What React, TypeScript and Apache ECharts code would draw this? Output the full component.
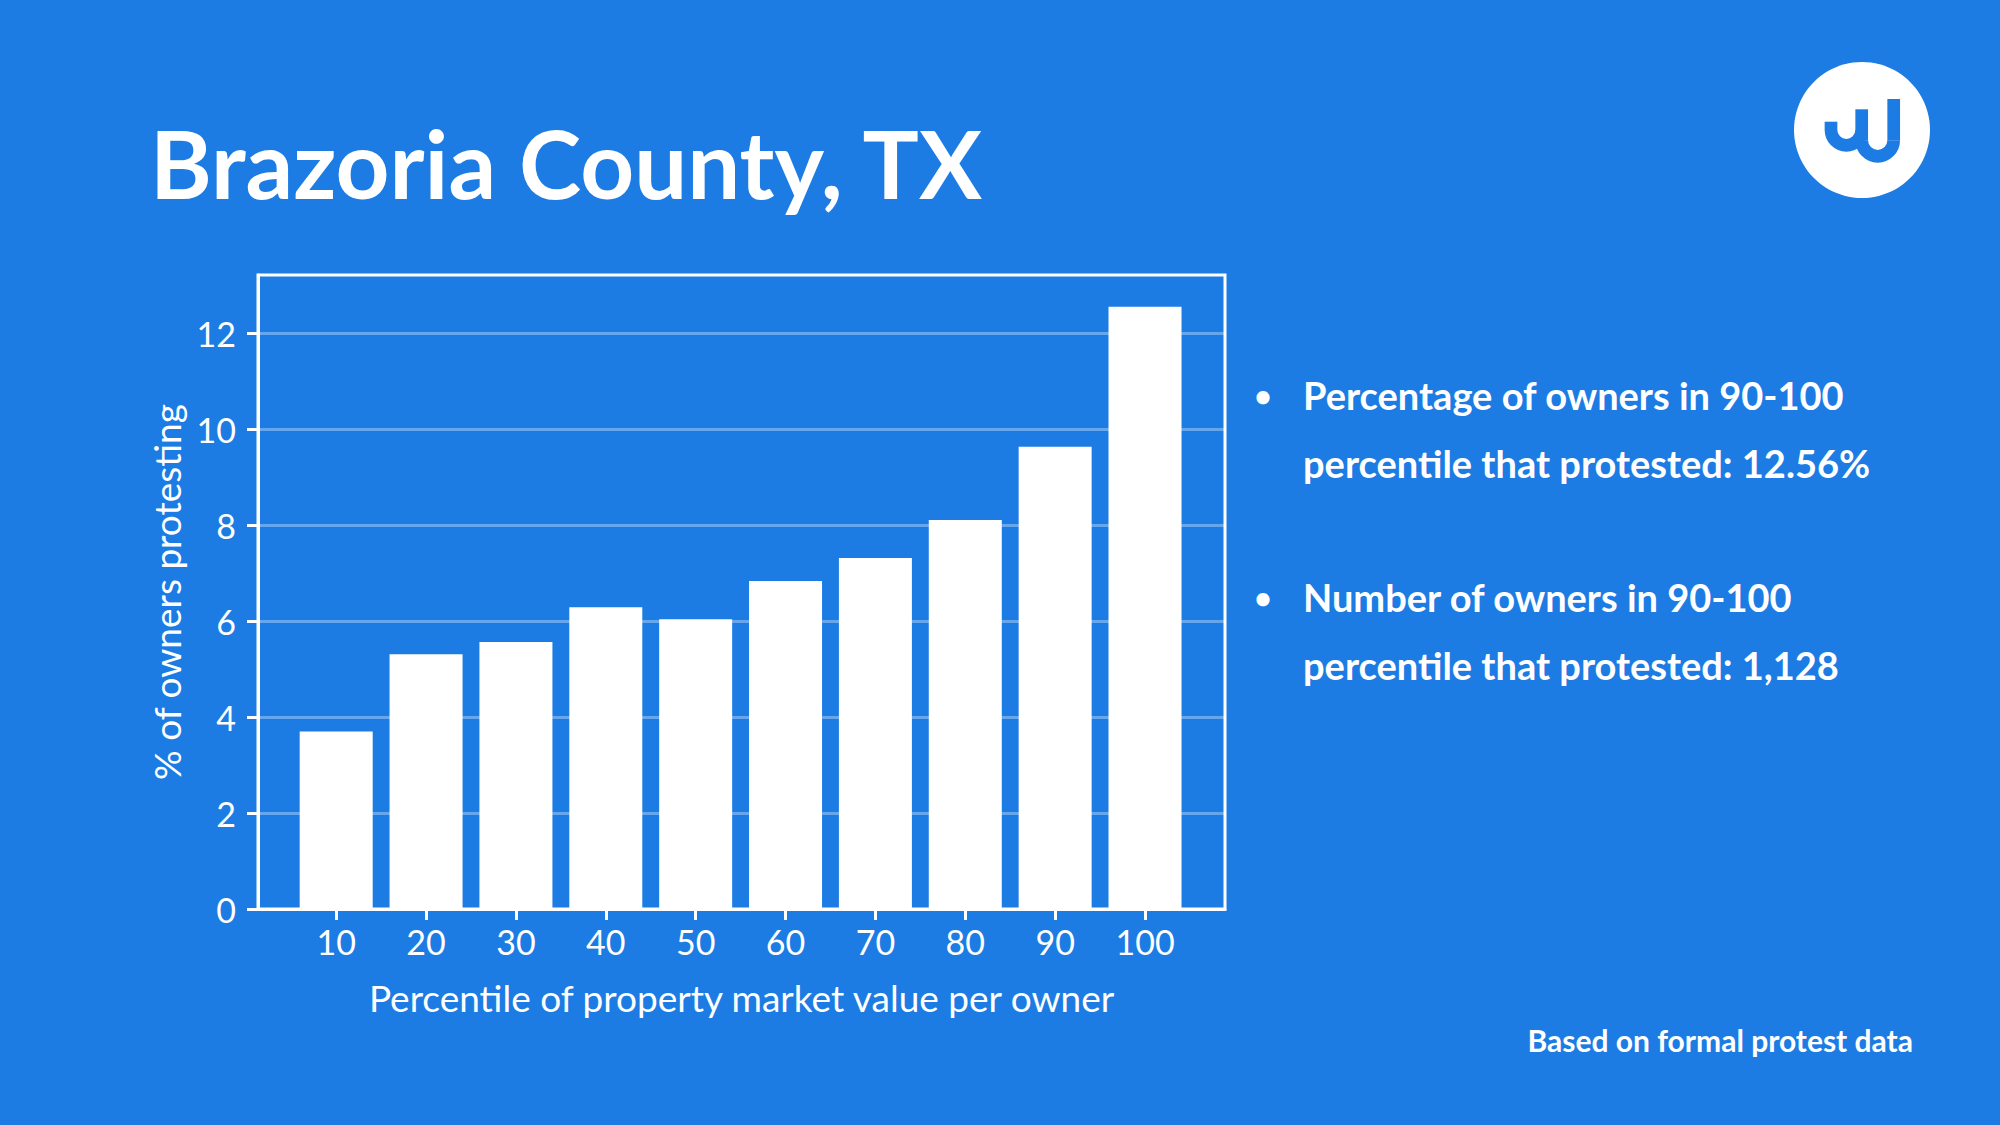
import React, { useEffect, useRef } from "react";
import * as echarts from "echarts";

const percentiles = [10, 20, 30, 40, 50, 60, 70, 80, 90, 100];
const protestPct = [3.7, 5.31, 5.57, 6.29, 6.04, 6.84, 7.32, 8.11, 9.64, 12.56];
const yTicks = [0, 2, 4, 6, 8, 10, 12];

const titleText = "Brazoria County, TX";
const xName = "Percentile of property market value per owner";
const yName = "% of owners protesting";
const bulletLines = [
  ["Percentage of owners in 90-100", "percentile that protested: 12.56%"],
  ["Number of owners in 90-100", "percentile that protested: 1,128"],
];
const footnote = "Based on formal protest data";

const BG = "#1c7ce4";
const FONT = "Lato";

export default function App() {
  const ref = useRef<HTMLDivElement>(null);
  useEffect(() => {
    document.body.style.margin = "0";
    const chart = echarts.init(ref.current!, null, { renderer: "svg" });

    const bulletGraphics: any[] = [];
    const lineYs = [[395, 463], [597, 665]];
    bulletLines.forEach((lines, i) => {
      bulletGraphics.push({
        type: "text",
        x: 1263,
        y: lineYs[i][0],
        style: { text: "•", fill: "#fff", font: `bold 30px ${FONT}`, verticalAlign: "middle", align: "center" },
      });
      lines.forEach((t, j) => {
        bulletGraphics.push({
          type: "text",
          x: 1303,
          y: lineYs[i][j],
          style: { text: t, fill: "#fff", font: `bold 38px ${FONT}`, verticalAlign: "middle", align: "left" },
        });
      });
    });

    const logoStroke = { stroke: BG, lineWidth: 12.7, fill: "none" };

    chart.setOption({
      animation: false,
      backgroundColor: BG,
      textStyle: { fontFamily: FONT },
      grid: {
        left: 258,
        right: 775,
        top: 275,
        bottom: 216,
        show: true,
        borderColor: "#fff",
        borderWidth: 3,
        backgroundColor: "transparent",
      },
      xAxis: {
        type: "value",
        min: 1.3,
        max: 108.9,
        name: xName,
        nameLocation: "middle",
        nameGap: 70,
        nameTextStyle: { color: "#fff", fontSize: 37, fontFamily: FONT },
        axisLine: { show: true, lineStyle: { color: "#fff", width: 3 } },
        axisTick: { show: true, length: 11, lineStyle: { color: "#fff", width: 3 }, customValues: percentiles },
        axisLabel: { color: "#fff", fontSize: 34, margin: 15, fontFamily: FONT, customValues: percentiles },
        splitLine: { show: false },
      },
      yAxis: {
        type: "value",
        min: 0,
        max: 13.22,
        name: yName,
        nameLocation: "middle",
        nameGap: 73,
        nameTextStyle: { color: "#fff", fontSize: 37, fontFamily: FONT },
        axisLine: { show: true, lineStyle: { color: "#fff", width: 3 } },
        axisTick: { show: true, length: 11, lineStyle: { color: "#fff", width: 3 }, customValues: yTicks },
        axisLabel: { color: "#fff", fontSize: 34, margin: 22, fontFamily: FONT, customValues: yTicks },
        splitLine: { show: true, lineStyle: { color: "rgba(255,255,255,0.32)", width: 3 } },
      },
      series: [
        {
          type: "bar",
          data: percentiles.map((p, i) => [p, protestPct[i]]),
          barWidth: 73,
          itemStyle: { color: "#fff" },
        },
      ],
      graphic: [
        {
          type: "text",
          x: 150,
          y: 162,
          style: { text: titleText, fill: "#fff", font: `bold 94px ${FONT}`, verticalAlign: "middle" },
        },
        ...bulletGraphics,
        {
          type: "text",
          x: 1913,
          y: 1040,
          style: { text: footnote, fill: "#fff", font: `bold 30px ${FONT}`, verticalAlign: "middle", align: "right" },
        },
        { type: "circle", shape: { cx: 1862, cy: 130, r: 68 }, style: { fill: "#fff" } },
        { type: "line", shape: { x1: 1831, y1: 121.7, x2: 1831, y2: 130 }, style: logoStroke },
        { type: "arc", shape: { cx: 1846.35, cy: 130, r: 15.35, startAngle: 0, endAngle: Math.PI }, style: logoStroke },
        { type: "line", shape: { x1: 1861.7, y1: 109.3, x2: 1861.7, y2: 140.3 }, style: logoStroke },
        { type: "arc", shape: { cx: 1877.7, cy: 140.3, r: 16, startAngle: 0, endAngle: Math.PI }, style: logoStroke },
        { type: "line", shape: { x1: 1893.7, y1: 99, x2: 1893.7, y2: 140.3 }, style: logoStroke },
      ],
    });
    return () => chart.dispose();
  }, []);
  return <div ref={ref} style={{ position: "fixed", left: 0, top: 0, width: 2000, height: 1125 }} />;
}
